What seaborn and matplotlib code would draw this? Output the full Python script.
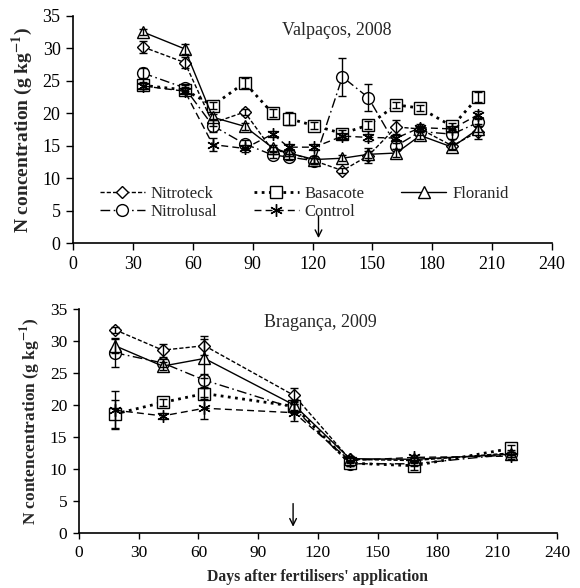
import matplotlib
matplotlib.use("Agg")
import matplotlib.pyplot as plt
import seaborn as sns
import pandas as pd

# ---- data: Valpaços, 2008 ----
days_v = [35, 56, 70, 86, 100, 108, 121, 135, 148, 162, 174, 190, 203]
nitroteck_v = [30.2, 27.8, 18.5, 20.2, 14.3, 14.0, 12.7, 11.2, 13.5, 17.9, 17.6, 15.0, 17.2]
basacote_v = [24.3, 23.6, 21.2, 24.7, 20.0, 19.2, 18.1, 16.9, 18.2, 21.3, 20.8, 18.0, 22.5]
floranid_v = [32.5, 29.9, 19.4, 18.0, 14.7, 13.9, 12.9, 13.1, 13.7, 13.9, 16.6, 14.8, 17.6]
nitrolusal_v = [26.2, 23.9, 18.1, 15.3, 13.6, 13.3, 12.7, 25.6, 22.4, 15.0, 17.2, 16.8, 18.6]
control_v = [24.2, 23.4, 15.2, 14.6, 16.8, 14.8, 14.8, 16.5, 16.3, 16.2, 17.8, 17.6, 19.8]
err_nitroteck_v = [0.9, 0.8, 0.5, 0.5, 0.5, 0.5, 0.5, 0.4, 1.2, 1.0, 0.5, 0.5, 1.2]
err_basacote_v = [0.5, 0.5, 0.5, 0.8, 0.6, 1.0, 0.5, 0.5, 0.6, 0.5, 0.5, 0.5, 0.8]
err_floranid_v = [0.5, 0.8, 0.5, 0.5, 0.5, 0.5, 0.5, 0.5, 0.5, 0.6, 0.6, 0.5, 0.5]
err_nitrolusal_v = [0.8, 0.5, 1.0, 0.6, 0.5, 0.5, 0.5, 2.9, 2.1, 0.5, 0.5, 0.8, 0.5]
err_control_v = [0.5, 0.5, 1.0, 0.5, 0.5, 0.5, 0.5, 0.5, 0.5, 0.5, 0.5, 0.5, 0.5]

# ---- data: Bragança, 2009 ----
days_b = [18, 42, 63, 108, 136, 168, 217]
nitroteck_b = [31.8, 28.6, 29.3, 21.5, 11.5, 11.3, 12.5]
basacote_b = [18.6, 20.4, 21.8, 19.8, 10.9, 10.5, 13.2]
floranid_b = [29.3, 26.1, 27.3, 20.0, 11.6, 11.5, 12.3]
nitrolusal_b = [28.2, 26.6, 23.9, 19.5, 10.8, 10.8, 12.3]
control_b = [19.2, 18.3, 19.5, 18.8, 11.3, 11.8, 12.0]
err_nitroteck_b = [0.5, 1.0, 1.5, 1.1, 0.4, 0.4, 0.4]
err_basacote_b = [2.2, 0.5, 0.8, 0.8, 0.5, 0.6, 0.6]
err_floranid_b = [1.2, 0.6, 3.0, 0.8, 0.4, 0.4, 0.4]
err_nitrolusal_b = [2.2, 0.6, 1.0, 0.6, 0.4, 0.4, 0.4]
err_control_b = [3.0, 0.5, 1.7, 1.3, 0.4, 0.4, 0.4]

names = ["Nitroteck", "Nitrolusal", "Basacote", "Control", "Floranid"]
x_ticks = [0, 30, 60, 90, 120, 150, 180, 210, 240]
y_ticks = [0, 5, 10, 15, 20, 25, 30, 35]

sns.set_theme(style="ticks")
plt.rcParams["font.family"] = ["Liberation Serif", "DejaVu Serif"]
plt.rcParams["mathtext.fontset"] = "stix"

styles = {
    "Nitroteck": dict(marker="D", ms=6.5, ls=(0, (3, 1.5)), lw=1.0),
    "Nitrolusal": dict(marker="o", ms=8.5, ls=(0, (7, 2.5, 1.2, 2.5)), lw=1.0),
    "Basacote": dict(marker="s", ms=8, ls=(0, (1, 1.6)), lw=2.0),
    "Control": dict(marker=(6, 2, 0), ms=9, ls=(0, (5, 3)), lw=1.0),
    "Floranid": dict(marker="^", ms=8.5, ls="-", lw=1.0),
}

fig = plt.figure(figsize=(5.8, 5.88), dpi=100)
ax1 = fig.add_axes([0.1259, 0.5859, 0.8258, 0.3874])
ax2 = fig.add_axes([0.1362, 0.0940, 0.8241, 0.3800])


def draw(ax, days, series, errs, tick_fs, tick_len, tick_pad):
    for name in names:
        st = styles[name]
        df = pd.DataFrame({"day": days, "N": series[name]})
        sns.lineplot(data=df, x="day", y="N", ax=ax, color="black",
                     linestyle=st["ls"], lw=st["lw"], marker=st["marker"],
                     markersize=st["ms"], markerfacecolor="white",
                     markeredgecolor="black", markeredgewidth=1.0,
                     label=name, zorder=3)
        ax.errorbar(days, series[name], yerr=errs[name], fmt="none",
                    ecolor="black", elinewidth=1.0, capsize=3, capthick=1.0,
                    zorder=4)
    ax.set_xlim(0, 240)
    ax.set_ylim(0, 35)
    ax.set_xticks(x_ticks)
    ax.set_yticks(y_ticks)
    ax.tick_params(direction="out", length=tick_len, width=1.0,
                   labelsize=tick_fs, pad=tick_pad, colors="black")
    for s in ["left", "bottom"]:
        ax.spines[s].set_linewidth(1.2)
        ax.spines[s].set_color("black")
    sns.despine(ax=ax)
    ax.set_xlabel("")


draw(ax1, days_v,
     {"Nitroteck": nitroteck_v, "Nitrolusal": nitrolusal_v, "Basacote": basacote_v,
      "Control": control_v, "Floranid": floranid_v},
     {"Nitroteck": err_nitroteck_v, "Nitrolusal": err_nitrolusal_v,
      "Basacote": err_basacote_v, "Control": err_control_v,
      "Floranid": err_floranid_v}, 13, 5, 4)
draw(ax2, days_b,
     {"Nitroteck": nitroteck_b, "Nitrolusal": nitrolusal_b, "Basacote": basacote_b,
      "Control": control_b, "Floranid": floranid_b},
     {"Nitroteck": err_nitroteck_b, "Nitrolusal": err_nitrolusal_b,
      "Basacote": err_basacote_b, "Control": err_control_b,
      "Floranid": err_floranid_b}, 12.5, 4.5, 4)

ax1.set_ylabel(r"N concentration (g kg$^{\mathbf{-1}}$)", fontsize=14,
               fontweight="bold", labelpad=5)
ax2.set_ylabel(r"N contencentration (g kg$^{\mathbf{-1}}$)", fontsize=12.5,
               fontweight="bold", labelpad=5)
ax2.set_xlabel("Days after fertilisers' application", fontsize=11.3,
               fontweight="bold", labelpad=6)

ax1.text(132, 32.8, "Valpaços, 2008", ha="center", va="center", fontsize=13)
ax2.text(121, 32.9, "Bragança, 2009", ha="center", va="center", fontsize=13)

ax1.annotate("", xy=(123, 0.4), xytext=(123, 4.6),
             arrowprops=dict(arrowstyle="->", lw=1.0, color="black",
                             mutation_scale=12))
ax2.annotate("", xy=(107.5, 0.5), xytext=(107.5, 5.0),
             arrowprops=dict(arrowstyle="->", lw=1.0, color="black",
                             mutation_scale=12))

leg = ax1.legend(loc="upper left", bbox_to_anchor=(0.056, 0.252), ncol=3,
                 frameon=False, fontsize=12, handlelength=2.7,
                 handletextpad=0.35, columnspacing=2.2, labelspacing=0.1,
                 borderpad=0, borderaxespad=0)
if ax2.get_legend() is not None:
    ax2.get_legend().remove()

fig.savefig("out.png", dpi=100, facecolor="white")
